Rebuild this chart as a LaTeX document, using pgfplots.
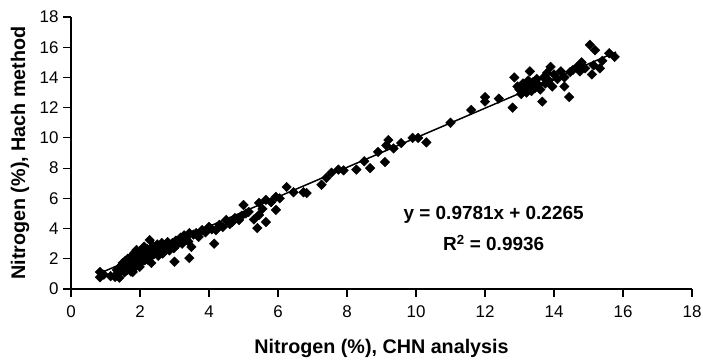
\documentclass[border=0pt]{standalone}
\usepackage{fontspec}
\setmainfont{Liberation Sans}
\usepackage{pgfplots}
\pgfplotsset{compat=1.18}
\begin{document}
\begin{tikzpicture}
\useasboundingbox (-71bp,-73bp) rectangle (632bp,289bp);
\begin{axis}[
  anchor=south west, at={(0,0)},
  scale only axis, width=621bp, height=272bp,
  xmin=0, xmax=18, ymin=0, ymax=18,
  xtick={0,2,...,18}, ytick={0,2,...,18},
  axis lines*=left,
  axis line style={line width=1.3bp},
  tick style={line width=1.1bp, black},
  tick align=outside, major tick length=8bp,
  /pgf/number format/assume math mode=true,
  tick label style={font=\fontsize{17}{17}\selectfont},
  xticklabel style={yshift=-5bp},
  yticklabel style={xshift=-1bp},
  label style={font=\bfseries\fontsize{19.8}{20}\selectfont},
  xlabel={Nitrogen (\%), CHN analysis},
  ylabel={Nitrogen (\%), Hach method},
  xlabel style={at={(axis description cs:0.5,-0.217)}, anchor=center},
  ylabel style={at={(axis description cs:-0.082,0.5)}, anchor=center},
  clip=false,
]
\addplot[only marks, mark=square*, mark size=3.4bp, mark options={rotate=45, fill=black, draw=black}] table {
x y
0.84 1.13
0.84 0.78
0.95 0.95
1.15 0.85
1.28 0.80
1.33 1.26
1.35 1.05
1.40 0.75
1.42 1.45
1.45 1.20
1.48 1.60
1.50 1.72
1.52 1.35
1.55 1.10
1.57 1.85
1.60 1.50
1.62 1.25
1.64 2.00
1.66 1.65
1.68 1.40
1.70 2.05
1.72 1.80
1.74 1.15
1.76 1.55
1.78 2.20
1.79 1.13
1.80 1.90
1.82 1.70
1.84 2.40
1.86 1.45
1.88 2.10
1.90 2.58
1.92 1.85
1.94 2.30
1.96 1.60
1.98 2.00
1.99 1.46
2.00 2.45
2.02 2.15
2.04 1.80
2.06 2.60
2.07 2.38
2.10 2.05
2.12 2.80
2.14 1.90
2.16 2.50
2.18 2.25
2.20 2.65
2.22 1.95
2.25 2.40
2.28 3.24
2.30 2.10
2.33 1.72
2.35 2.55
2.38 2.85
2.40 2.30
2.43 2.70
2.46 2.45
2.50 2.95
2.53 2.20
2.56 2.70
2.60 2.50
2.63 3.05
2.66 2.35
2.70 2.80
2.73 2.60
2.77 2.78
2.80 3.10
2.85 2.55
2.90 2.90
2.94 3.04
2.98 2.70
3.00 1.80
3.04 3.20
3.08 2.95
3.14 3.24
3.18 3.40
3.22 3.00
3.28 3.55
3.34 3.37
3.40 3.15
3.43 2.05
3.43 3.70
3.49 2.78
3.55 3.60
3.63 3.70
3.70 3.45
3.80 3.90
3.90 3.75
4.00 4.10
4.08 3.95
4.15 3.00
4.20 3.90
4.30 4.25
4.40 4.10
4.50 4.57
4.60 4.30
4.67 4.43
4.75 4.70
4.87 4.57
4.95 4.85
5.00 5.56
5.07 5.00
5.15 5.10
5.30 4.60
5.40 4.03
5.45 5.70
5.45 4.90
5.55 5.30
5.65 5.90
5.65 4.43
5.80 5.75
5.94 6.10
5.94 5.23
6.05 6.00
6.25 6.75
6.45 6.40
6.74 6.40
6.83 6.35
7.26 6.90
7.40 7.35
7.55 7.70
7.75 7.90
7.90 7.85
8.27 7.90
8.50 8.45
8.67 8.00
8.90 9.07
9.10 8.40
9.14 9.50
9.20 9.86
9.35 9.30
9.57 9.66
9.90 10.00
10.06 10.00
10.30 9.70
11.00 11.00
11.60 11.85
12.00 12.70
12.00 12.40
12.40 12.60
12.80 12.00
12.85 14.00
12.94 13.40
13.00 13.20
13.05 12.90
13.10 13.60
13.15 13.30
13.20 13.00
13.25 13.80
13.30 14.40
13.30 13.50
13.35 13.10
13.40 13.70
13.45 13.30
13.50 13.90
13.55 13.50
13.60 13.20
13.66 12.40
13.70 14.00
13.75 13.60
13.80 14.30
13.85 13.80
13.90 14.70
13.95 13.40
14.00 14.20
14.10 13.90
14.20 14.40
14.30 14.00
14.30 13.40
14.44 12.70
14.47 14.36
14.55 14.50
14.67 14.70
14.75 14.40
14.80 15.00
14.90 14.60
15.04 16.16
15.10 14.20
15.15 14.80
15.19 15.80
15.33 14.60
15.40 15.10
15.60 15.60
15.76 15.36
};
\addplot[black, line width=1.5bp] coordinates {(0.8,1.009) (15.8,15.681)};
\node[font=\bfseries\fontsize{19}{19}\selectfont] at (axis cs:12.25,4.90) {y = 0.9781x + 0.2265};
\node[font=\bfseries\fontsize{19}{19}\selectfont] at (axis cs:12.25,3.04) {R\textsuperscript{2} = 0.9936};
\end{axis}
\end{tikzpicture}
\end{document}
